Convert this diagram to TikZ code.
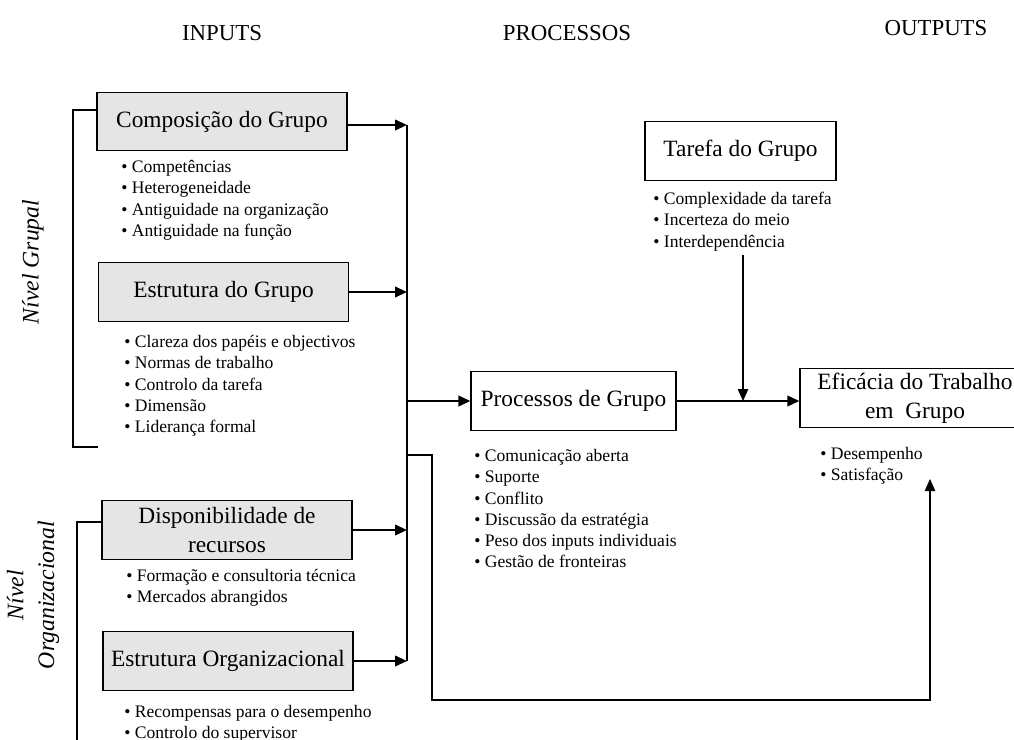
\documentclass[tikz,border=0pt]{standalone}
\usepackage{fontspec}
\setmainfont{Liberation Serif}
\usetikzlibrary{arrows.meta}

\newcommand{\itm}{\textbullet\ }

\begin{document}
\begin{tikzpicture}[
  x=0.02cm, y=-0.02cm,
  >={Triangle[length=2.4mm,width=2.1mm]},
  every node/.style={font=\fontsize{13.3}{16.5}\selectfont},
  header/.style={font=\fontsize{13}{15}\selectfont},
  level/.style={rotate=90, align=center, font=\fontsize{13.5}{17.5}\selectfont\itshape},
  inbox/.style={draw, line width=0.7pt, fill=black!10, minimum width=5cm,
    minimum height=1.17cm, align=center, inner sep=1pt},
  procbox/.style={draw, line width=0.7pt, fill=white, minimum height=1.17cm,
    align=center, inner sep=1pt},
  bullets/.style={anchor=north west, align=left, inner sep=0pt,
    font=\fontsize{10}{12.1}\selectfont},
  flow/.style={->, line width=1.3pt},
  link/.style={->, line width=0.7pt},
  bracket/.style={line width=0.7pt}
]
  \useasboundingbox (0,0) rectangle (1014,740);
  \clip (0,0) rectangle (1014,740);

  \node[header] (inputs) at (222,33) {INPUTS};
  \node[header] (processos) at (567,33) {PROCESSOS};
  \node[header] (outputs) at (936,28) {OUTPUTS};

  % nivel grupal
  \node[inbox] (comp) at (222,121.5) {Composição do Grupo};
  \node[bullets] (complist) at (121,160) {\itm Competências\\ \itm Heterogeneidade\\
    \itm Antiguidade na organização\\ \itm Antiguidade na função};
  \node[inbox] (estrut) at (223.5,292) {Estrutura do Grupo};
  \node[bullets] (estrutlist) at (124,335) {\itm Clareza dos papéis e objectivos\\
    \itm Normas de trabalho\\ \itm Controlo da tarefa\\ \itm Dimensão\\ \itm Liderança formal};

  % nivel organizacional
  \node[inbox] (disp) at (227,530) {Disponibilidade de\\ recursos};
  \node[bullets] (displist) at (126,569) {\itm Formação e consultoria técnica\\
    \itm Mercados abrangidos};
  \node[inbox] (estorg) at (228,661) {Estrutura Organizacional};
  \node[bullets] (estorglist) at (124,705) {\itm Recompensas para o desempenho\\
    \itm Controlo do supervisor};

  \node[level] (grupal) at (33,262) {Nível Grupal};
  \node[level] (organiz) at (33,595) {Nível\\ Organizacional};

  \coordinate (gtop) at (73,110);
  \coordinate (gbot) at (73,447);
  \draw[bracket] (comp.west |- gtop) -- (gtop) -- (gbot) -- (gbot -| estrut.west);
  \coordinate (otop) at (77,522);
  \coordinate (obot) at (77,745);
  \draw[bracket] (disp.west |- otop) -- (otop) -- (obot);

  % processos and outputs
  \node[procbox, minimum width=4.1cm] (proc) at (573.5,401) {Processos de Grupo};
  \node[bullets] (proclist) at (474,449) {\itm Comunicação aberta\\ \itm Suporte\\
    \itm Conflito\\ \itm Discussão da estratégia\\ \itm Peso dos inputs individuais\\
    \itm Gestão de fronteiras};
  \node[procbox, minimum width=3.82cm] (tarefa) at (740.5,151) {Tarefa do Grupo};
  \node[bullets] (tarefalist) at (653,192) {\itm Complexidade da tarefa\\
    \itm Incerteza do meio\\ \itm Interdependência};
  \node[procbox, minimum width=4.6cm] (efic) at (915,398) {Eficácia do Trabalho\\ em~~Grupo};
  \node[bullets] (eficlist) at (820,447) {\itm Desempenho\\ \itm Satisfação};

  % input bus
  \coordinate (bustop) at (407,125);
  \draw[bracket] (bustop) -- (bustop |- estorg.east);
  \draw[flow] (comp.east |- bustop) -- (bustop);
  \draw[flow] (estrut.east) -- (estrut.east -| bustop);
  \draw[flow] (disp.east) -- (disp.east -| bustop);
  \draw[flow] (estorg.east) -- (estorg.east -| bustop);
  \draw[flow] (proc.west -| bustop) -- (proc.west);

  \draw[flow] (proc.east) -- (proc.east -| efic.west);
  \coordinate (tarefaout) at (743,255);
  \draw[link] (tarefaout) -- (tarefaout |- proc.east);

  \coordinate (fbstart) at (407,455);
  \coordinate (fbcorner) at (432,700);
  \coordinate (fbend) at (930,479);
  \draw[link] (fbstart) -| (fbcorner) -| (fbend);
\end{tikzpicture}
\end{document}
